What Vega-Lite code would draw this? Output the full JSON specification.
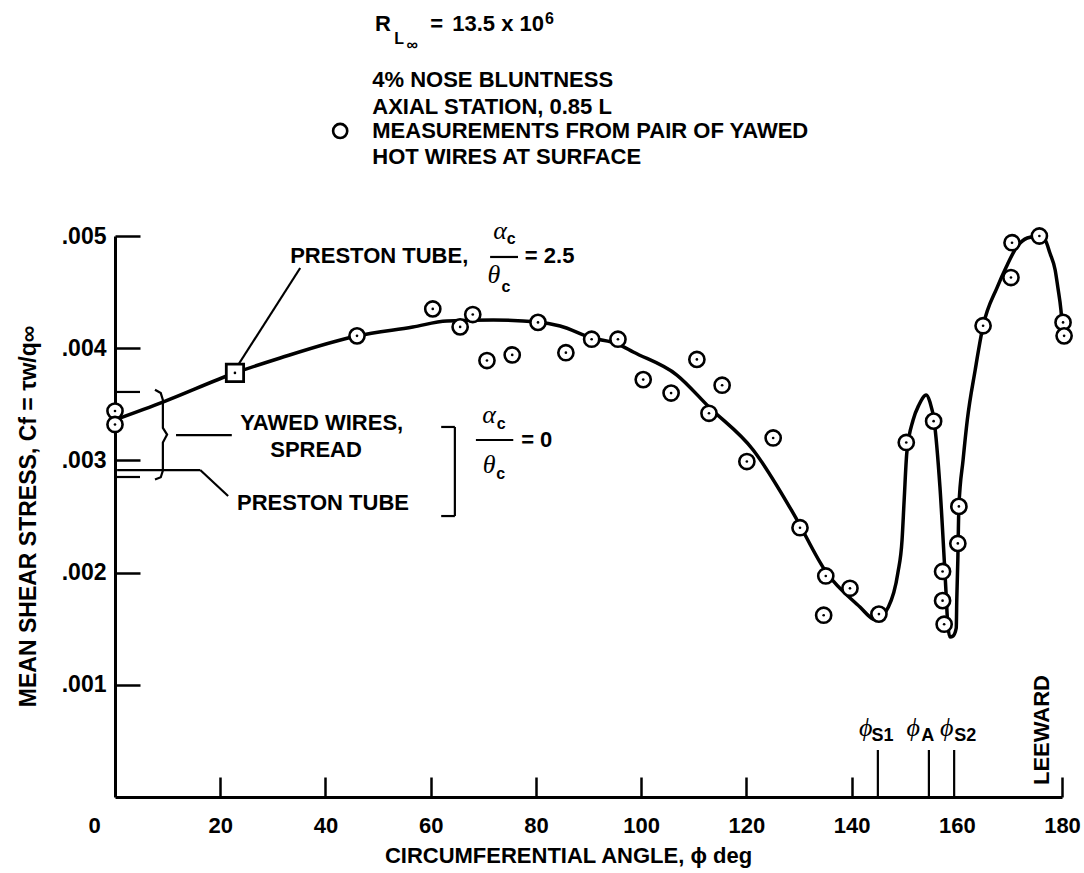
{
  "$schema": "https://vega.github.io/schema/vega-lite/v6.json",
  "width": 947,
  "height": 561,
  "autosize": {"type": "none"},
  "padding": {"left": 115, "top": 236, "right": 22, "bottom": 76},
  "background": "white",
  "config": {"view": {"stroke": null}, "font": "Liberation Sans"},
  "datasets": {
    "pts": [
      {"x": 0, "y": 0.00344}, {"x": 0, "y": 0.00332}, {"x": 46.0, "y": 0.00411}, {"x": 60.4, "y": 0.00435},
      {"x": 65.6, "y": 0.00419}, {"x": 68.0, "y": 0.0043}, {"x": 70.7, "y": 0.00389}, {"x": 75.5, "y": 0.00394},
      {"x": 80.4, "y": 0.00423}, {"x": 85.7, "y": 0.00396}, {"x": 90.6, "y": 0.00408}, {"x": 95.6, "y": 0.00408},
      {"x": 100.4, "y": 0.00372}, {"x": 105.7, "y": 0.0036}, {"x": 110.6, "y": 0.0039}, {"x": 112.9, "y": 0.00342},
      {"x": 115.4, "y": 0.00367}, {"x": 120.1, "y": 0.00299}, {"x": 125.1, "y": 0.0032}, {"x": 130.2, "y": 0.0024},
      {"x": 134.7, "y": 0.00162}, {"x": 135.1, "y": 0.00197}, {"x": 139.7, "y": 0.00186}, {"x": 145.2, "y": 0.00163},
      {"x": 150.4, "y": 0.00316}, {"x": 155.6, "y": 0.00335}, {"x": 157.3, "y": 0.00201}, {"x": 157.3, "y": 0.00175},
      {"x": 157.6, "y": 0.00154}, {"x": 160.2, "y": 0.00226}, {"x": 160.4, "y": 0.00259}, {"x": 165.0, "y": 0.0042},
      {"x": 170.3, "y": 0.00463}, {"x": 170.5, "y": 0.00494}, {"x": 175.7, "y": 0.005}, {"x": 180.2, "y": 0.00423},
      {"x": 180.4, "y": 0.00411}
    ],
    "preston": [{"x": 22.8, "y": 0.00378}],
    "legendpt": [{"x": 42.8, "y": 0.005936}],
    "curve": [
      {"i": 1, "x": 0.4, "y": 0.003369}, {"i": 2, "x": 9.1, "y": 0.00352}, {"i": 3, "x": 22.8, "y": 0.003779},
      {"i": 4, "x": 31.4, "y": 0.003913}, {"i": 5, "x": 46.0, "y": 0.004109}, {"i": 6, "x": 56.6, "y": 0.004189},
      {"i": 7, "x": 63.1, "y": 0.004242}, {"i": 8, "x": 71.9, "y": 0.004251}, {"i": 9, "x": 80.4, "y": 0.004234},
      {"i": 10, "x": 84.6, "y": 0.004198}, {"i": 11, "x": 90.7, "y": 0.004091}, {"i": 12, "x": 95.6, "y": 0.004037},
      {"i": 13, "x": 98.5, "y": 0.003966}, {"i": 14, "x": 106.8, "y": 0.003761}, {"i": 15, "x": 112.9, "y": 0.003476},
      {"i": 16, "x": 121.3, "y": 0.003093}, {"i": 17, "x": 128.9, "y": 0.002531}, {"i": 18, "x": 135.3, "y": 0.001996},
      {"i": 19, "x": 141.6, "y": 0.001693}, {"i": 20, "x": 144.1, "y": 0.001586}, {"i": 21, "x": 144.6, "y": 0.001578},
      {"i": 22, "x": 147.0, "y": 0.001693}, {"i": 23, "x": 148.8, "y": 0.001996}, {"i": 24, "x": 149.6, "y": 0.002291},
      {"i": 25, "x": 150.0, "y": 0.002647}, {"i": 26, "x": 150.5, "y": 0.003066}, {"i": 27, "x": 151.7, "y": 0.00336},
      {"i": 28, "x": 152.8, "y": 0.003494}, {"i": 29, "x": 154.2, "y": 0.003583}, {"i": 30, "x": 154.9, "y": 0.00352},
      {"i": 31, "x": 155.7, "y": 0.003351}, {"i": 32, "x": 156.8, "y": 0.002763}, {"i": 33, "x": 157.9, "y": 0.001872},
      {"i": 34, "x": 158.3, "y": 0.001533}, {"i": 35, "x": 158.7, "y": 0.001426}, {"i": 36, "x": 159.3, "y": 0.001435},
      {"i": 37, "x": 159.9, "y": 0.001506}, {"i": 38, "x": 160.0, "y": 0.001756}, {"i": 39, "x": 160.2, "y": 0.002112},
      {"i": 40, "x": 160.4, "y": 0.002585}, {"i": 41, "x": 161.2, "y": 0.003004}, {"i": 42, "x": 162.0, "y": 0.00336},
      {"i": 43, "x": 163.5, "y": 0.003806}, {"i": 44, "x": 165.0, "y": 0.004198}, {"i": 45, "x": 167.7, "y": 0.004545},
      {"i": 46, "x": 169.4, "y": 0.004724}, {"i": 47, "x": 171.4, "y": 0.004902}, {"i": 48, "x": 173.4, "y": 0.004982},
      {"i": 49, "x": 175.6, "y": 0.005}, {"i": 50, "x": 176.8, "y": 0.004964}, {"i": 51, "x": 177.7, "y": 0.004848},
      {"i": 52, "x": 178.7, "y": 0.004697}, {"i": 53, "x": 179.2, "y": 0.004545}, {"i": 54, "x": 179.8, "y": 0.00434},
      {"i": 55, "x": 180.0, "y": 0.004234}
    ],
    "brace": [
      {"i": 1, "x": 7.6, "y": 0.00363}, {"i": 2, "x": 8.7, "y": 0.0036}, {"i": 3, "x": 9.1, "y": 0.00354},
      {"i": 4, "x": 9.1, "y": 0.00329}, {"i": 5, "x": 9.9, "y": 0.00323}, {"i": 6, "x": 9.1, "y": 0.00316},
      {"i": 7, "x": 9.1, "y": 0.00291}, {"i": 8, "x": 8.7, "y": 0.00285}, {"i": 9, "x": 7.6, "y": 0.00283}
    ],
    "rules": [
      {"x": 23.4, "y": 0.00385, "x2": 35.2, "y2": 0.004715},
      {"x": 11.6, "y": 0.003226, "x2": 22.2, "y2": 0.003226},
      {"x": 0.4, "y": 0.002914, "x2": 16.2, "y2": 0.002914},
      {"x": 16.2, "y": 0.002914, "x2": 21.5, "y2": 0.002683},
      {"x": 64.6, "y": 0.003298, "x2": 64.6, "y2": 0.002504},
      {"x": 62.0, "y": 0.003298, "x2": 64.6, "y2": 0.003298},
      {"x": 62.0, "y": 0.002504, "x2": 64.6, "y2": 0.002504},
      {"x": 71.3, "y": 0.004813, "x2": 76.6, "y2": 0.004813},
      {"x": 68.6, "y": 0.003182, "x2": 75.7, "y2": 0.003182},
      {"x": 0, "y": 0.00361, "x2": 4.75, "y2": 0.00361},
      {"x": 0, "y": 0.002852, "x2": 4.75, "y2": 0.002852},
      {"x": 145.0, "y": 0, "x2": 145.0, "y2": 0.000419},
      {"x": 154.7, "y": 0, "x2": 154.7, "y2": 0.000419},
      {"x": 159.5, "y": 0, "x2": 159.5, "y2": 0.000419}
    ],
    "txt": [
      {"x": 33.3, "y": 0.004822, "t": "PRESTON TUBE,"},
      {"x": 77.9, "y": 0.004822, "t": "= 2.5"},
      {"x": 23.8, "y": 0.003333, "t": "YAWED WIRES,"},
      {"x": 29.5, "y": 0.003093, "t": "SPREAD"},
      {"x": 23.2, "y": 0.00262, "t": "PRESTON TUBE"},
      {"x": 77.2, "y": 0.003182, "t": "= 0"},
      {"x": 49.4, "y": 0.00689, "t": "R"},
      {"x": 59.9, "y": 0.00689, "t": "="},
      {"x": 64.1, "y": 0.00689, "t": "13.5 x 10"},
      {"x": 48.9, "y": 0.00639, "t": "4% NOSE BLUNTNESS"},
      {"x": 48.9, "y": 0.00615, "t": "AXIAL STATION, 0.85 L"},
      {"x": 48.9, "y": 0.005936, "t": "MEASUREMENTS FROM PAIR OF YAWED"},
      {"x": 48.9, "y": 0.005704, "t": "HOT WIRES AT SURFACE"}
    ],
    "greek": [
      {"x": 73.2, "y": 0.005045, "t": "α"},
      {"x": 72.0, "y": 0.004652, "t": "θ"},
      {"x": 71.1, "y": 0.003405, "t": "α"},
      {"x": 71.1, "y": 0.002959, "t": "θ"},
      {"x": 142.7, "y": 0.000615, "t": "ϕ"},
      {"x": 151.7, "y": 0.000615, "t": "ϕ"},
      {"x": 158.1, "y": 0.000615, "t": "ϕ"}
    ],
    "small": [
      {"x": 75.3, "y": 0.004973, "t": "c"},
      {"x": 74.3, "y": 0.004545, "t": "c"},
      {"x": 73.4, "y": 0.003324, "t": "c"},
      {"x": 73.3, "y": 0.002879, "t": "c"},
      {"x": 54.0, "y": 0.006756, "t": "L"},
      {"x": 56.5, "y": 0.006702, "t": "∞"},
      {"x": 82.6, "y": 0.006935, "t": "6"}
    ],
    "phisub": [
      {"x": 145.9, "y": 0.000544, "t": "S1"},
      {"x": 154.5, "y": 0.000544, "t": "A"},
      {"x": 161.6, "y": 0.000544, "t": "S2"}
    ],
    "leeward": [{"x": 176.2, "y": 0.000597, "t": "LEEWARD"}]
  },
  "encoding": {
    "x": {
      "field": "x", "type": "quantitative",
      "scale": {"domain": [0, 180], "nice": false, "zero": false},
      "axis": {
        "values": [0, 20, 40, 60, 80, 100, 120, 140, 160, 180],
        "grid": false, "labelFlush": false, "labelOverlap": false,
        "domainColor": "black", "domainWidth": 3,
        "tickColor": "black", "tickWidth": 2.5, "tickSize": -20,
        "tickOpacity": {"condition": {"test": "datum.value === 160 || datum.value === 0", "value": 0}, "value": 1},
        "labelOffset": {"condition": {"test": "datum.value === 0", "value": -21}, "value": 0},
        "labelFont": "Liberation Sans", "labelFontSize": 22, "labelFontWeight": "bold", "labelColor": "black",
        "labelBaseline": "middle", "labelPadding": 48,
        "title": "CIRCUMFERENTIAL ANGLE, ϕ deg",
        "titleFont": "Liberation Sans", "titleFontSize": 22, "titleFontWeight": "bold", "titleColor": "black",
        "titleX": 453, "titleY": 58, "titleAlign": "center", "titleBaseline": "middle"
      }
    },
    "y": {
      "field": "y", "type": "quantitative",
      "scale": {"domain": [0, 0.005], "nice": false, "zero": true},
      "axis": {
        "values": [0.001, 0.002, 0.003, 0.004, 0.005],
        "labelExpr": "replace(format(datum.value, '.3f'), '0.', '.')",
        "grid": false, "labelOverlap": false, "labelFlush": false,
        "domainColor": "black", "domainWidth": 3,
        "tickColor": "black", "tickWidth": 2.5, "tickSize": -25,
        "labelFont": "Liberation Sans", "labelFontSize": 23, "labelFontWeight": "bold", "labelColor": "black",
        "labelAlign": "right", "labelBaseline": "middle", "labelPadding": 34,
        "title": "MEAN SHEAR STRESS, Cf = τw/q∞",
        "titleFont": "Liberation Sans", "titleFontSize": 23, "titleFontWeight": "bold", "titleColor": "black",
        "titleAngle": 270, "titleX": -87, "titleY": 280, "titleAlign": "center", "titleBaseline": "middle"
      }
    }
  },
  "layer": [
    {
      "data": {"name": "rules"},
      "mark": {"type": "rule", "color": "black", "strokeWidth": 2.2, "clip": false},
      "encoding": {"x2": {"field": "x2"}, "y2": {"field": "y2"}}
    },
    {
      "data": {"name": "curve"},
      "mark": {"type": "line", "color": "black", "strokeWidth": 3.5, "interpolate": "monotone", "clip": false},
      "encoding": {"order": {"field": "i", "type": "quantitative"}}
    },
    {
      "data": {"name": "brace"},
      "mark": {"type": "line", "color": "black", "strokeWidth": 2.2, "interpolate": "linear", "clip": false},
      "encoding": {"order": {"field": "i", "type": "quantitative"}}
    },
    {
      "data": {"name": "pts"},
      "mark": {"type": "point", "shape": "circle", "size": 230, "filled": false, "fill": "white", "fillOpacity": 1, "stroke": "black", "strokeWidth": 2.6, "opacity": 1, "clip": false},
      "encoding": {}
    },
    {
      "data": {"name": "pts"},
      "mark": {"type": "point", "shape": "circle", "size": 7, "filled": true, "color": "black", "opacity": 1, "clip": false},
      "encoding": {}
    },
    {
      "data": {"name": "preston"},
      "mark": {"type": "point", "shape": "square", "size": 300, "filled": false, "fill": "white", "fillOpacity": 1, "stroke": "black", "strokeWidth": 2.8, "opacity": 1, "clip": false},
      "encoding": {}
    },
    {
      "data": {"name": "preston"},
      "mark": {"type": "point", "shape": "circle", "size": 7, "filled": true, "color": "black", "opacity": 1, "clip": false},
      "encoding": {}
    },
    {
      "data": {"name": "legendpt"},
      "mark": {"type": "point", "shape": "circle", "size": 200, "filled": false, "stroke": "black", "strokeWidth": 2.6, "opacity": 1, "clip": false},
      "encoding": {}
    },
    {
      "data": {"name": "txt"},
      "mark": {"type": "text", "align": "left", "baseline": "middle", "font": "Liberation Sans", "fontSize": 22, "fontWeight": "bold", "color": "black", "clip": false},
      "encoding": {"text": {"field": "t"}}
    },
    {
      "data": {"name": "greek"},
      "mark": {"type": "text", "align": "center", "baseline": "middle", "font": "Liberation Serif", "fontSize": 26, "fontStyle": "italic", "color": "black", "clip": false},
      "encoding": {"text": {"field": "t"}}
    },
    {
      "data": {"name": "small"},
      "mark": {"type": "text", "align": "center", "baseline": "middle", "font": "Liberation Sans", "fontSize": 16, "fontWeight": "bold", "color": "black", "clip": false},
      "encoding": {"text": {"field": "t"}}
    },
    {
      "data": {"name": "phisub"},
      "mark": {"type": "text", "align": "center", "baseline": "middle", "font": "Liberation Sans", "fontSize": 18, "fontWeight": "bold", "color": "black", "clip": false},
      "encoding": {"text": {"field": "t"}}
    },
    {
      "data": {"name": "leeward"},
      "mark": {"type": "text", "align": "center", "baseline": "middle", "angle": 270, "font": "Liberation Sans", "fontSize": 22, "fontWeight": "bold", "color": "black", "clip": false},
      "encoding": {"text": {"field": "t"}}
    }
  ]
}
